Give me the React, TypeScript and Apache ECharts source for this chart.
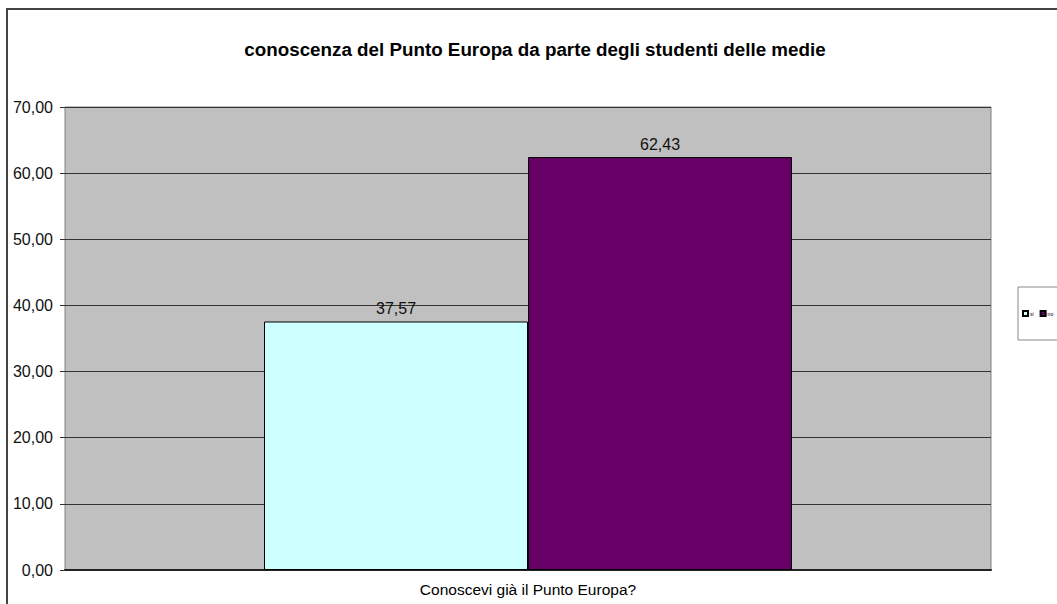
import React, { useEffect, useRef } from "react";
import * as echarts from "echarts";

const categories = ["Conoscevi già il Punto Europa?"];
const seriesNames = ["si", "no"];
const siValues = [37.57];
const noValues = [62.43];
const seriesColors = ["#ccffff", "#660066"];
const titleText = "conoscenza del Punto Europa da parte degli studenti delle medie";

const fmt = (v: number) => v.toFixed(2).replace(".", ",");

export default function App() {
  const ref = useRef<HTMLDivElement>(null);
  useEffect(() => {
    if (!ref.current) return;
    const chart = echarts.init(ref.current, null, { renderer: "svg" });
    const font = "Arial, 'Liberation Sans', sans-serif";
    const valueLabel = {
      show: true,
      position: "top",
      distance: 5,
      fontFamily: font,
      fontSize: 16,
      color: "#111",
      formatter: (p: any) => fmt(p.value),
    };
    chart.setOption({
      animation: false,
      backgroundColor: "#ffffff",
      title: {
        text: titleText,
        left: 530,
        top: 35,
        textAlign: "center",
        textStyle: { fontFamily: font, fontSize: 18.8, fontWeight: "bold", color: "#000" },
      },
      legend: {
        data: seriesNames,
        left: 1022,
        top: 310,
        itemWidth: 5,
        itemHeight: 5,
        itemGap: 6,
        icon: "rect",
        textStyle: { fontSize: 5, fontFamily: font, color: "#000", padding: [0, 0, 0, -3] },
        padding: 0,
      },
      graphic: [
        {
          type: "rect",
          shape: { x: 7, y: 9, width: 1200, height: 700 },
          style: { fill: "none", stroke: "#444", lineWidth: 2 },
          silent: true,
        },
        {
          type: "rect",
          shape: { x: 1018, y: 287, width: 80, height: 53 },
          style: { fill: "none", stroke: "#888", lineWidth: 1 },
          silent: true,
        },
      ],
      grid: {
        left: 65,
        top: 107,
        width: 926,
        height: 463,
        show: true,
        backgroundColor: "#c0c0c0",
        borderColor: "#808080",
        borderWidth: 1,
      },
      xAxis: {
        type: "category",
        data: categories,
        axisLine: { show: true, lineStyle: { color: "#222", width: 2 } },
        axisTick: { show: false },
        axisLabel: { fontFamily: font, fontSize: 15.5, color: "#000", margin: 11 },
      },
      yAxis: {
        type: "value",
        min: 0,
        max: 70,
        interval: 10,
        axisLine: { show: false },
        axisTick: { show: true, length: 5, lineStyle: { color: "#333" } },
        splitLine: { show: true, lineStyle: { color: "#333", width: 1 } },
        axisLabel: {
          fontFamily: font,
          fontSize: 16,
          color: "#111",
          margin: 12,
          formatter: (v: number) => fmt(v),
        },
      },
      series: [
        {
          name: seriesNames[0],
          type: "bar",
          data: siValues,
          barWidth: 264,
          barGap: "0%",
          itemStyle: { color: seriesColors[0], borderColor: "#000", borderWidth: 1 },
          label: valueLabel,
        },
        {
          name: seriesNames[1],
          type: "bar",
          data: noValues,
          barWidth: 264,
          barGap: "0%",
          itemStyle: { color: seriesColors[1], borderColor: "#000", borderWidth: 1 },
          label: valueLabel,
        },
      ],
    });
    return () => chart.dispose();
  }, []);
  return (
    <div
      ref={ref}
      style={{ position: "fixed", left: 0, top: 0, width: 1057, height: 604 }}
    />
  );
}
